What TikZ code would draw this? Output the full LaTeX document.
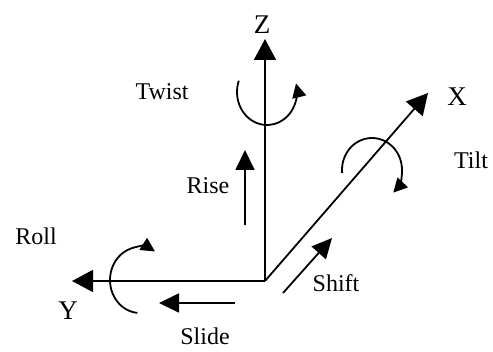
\documentclass[tikz,border=0pt]{standalone}
\usepackage{fontspec}
\setmainfont{Liberation Serif}
\usetikzlibrary{arrows.meta}
\begin{document}
\begin{tikzpicture}[x=1pt,y=1pt,
  axis/.style={line width=1.8pt,-{Triangle[length=21pt,width=22pt]}},
  move/.style={line width=1.8pt,-{Triangle[length=20pt,width=19pt]}},
  turn/.style={line width=1.8pt,-{Triangle[length=14pt,width=14pt]}},
  lab/.style={font=\fontsize{24}{26}\selectfont,inner sep=0pt},
  axlab/.style={font=\fontsize{27}{29}\selectfont,inner sep=0pt}]
\useasboundingbox (0,0) rectangle (493,351);
\coordinate (O) at (265,70);
\coordinate (Zt) at (265,312);
\coordinate (Xt) at (428,258);
\coordinate (Yt) at (72,70);
\draw[axis] (O) -- (Zt);
\draw[axis] (O) -- (Xt);
\draw[axis] (O) -- (Yt);
\node[axlab] (Z) at (262,326) {Z};
\node[axlab] (X) at (457,254) {X};
\node[axlab] (Y) at (68,40) {Y};
% Twist
\coordinate (tw) at (267,259);
\draw[turn] ([shift={(160:30 and 33)}]tw) arc[start angle=160,end angle=375,x radius=30,y radius=33];
% Tilt
\coordinate (ti) at (372,181);
\draw[turn] ([shift={(185:30 and 32)}]ti) arc[start angle=185,end angle=-45,x radius=30,y radius=32];
% Roll
\coordinate (ro) at (140,71);
\draw[turn] ([shift={(-95:30 and 33)}]ro) arc[start angle=-95,end angle=-300,x radius=30,y radius=33];
% translations
\coordinate (r1) at (245,126);
\coordinate (r2) at (245,201);
\draw[move] (r1) -- (r2);
\coordinate (s1) at (235,48);
\coordinate (s2) at (159,48);
\draw[move] (s1) -- (s2);
\coordinate (h1) at (283,58);
\coordinate (h2) at (332,113);
\draw[move] (h1) -- (h2);
\node[lab] (twist) at (162,259) {Twist};
\node[lab] (rise) at (208,165) {Rise};
\node[lab] (roll) at (36,115) {Roll};
\node[lab] (slide) at (205,15) {Slide};
\node[lab] (shift) at (336,68) {Shift};
\node[lab] (tilt) at (471,191) {Tilt};
\end{tikzpicture}
\end{document}
